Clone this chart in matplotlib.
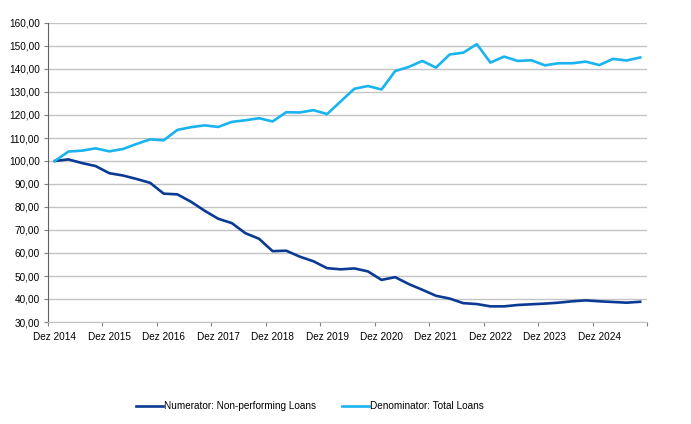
import matplotlib
matplotlib.use("Agg")
from matplotlib import pyplot as plt
import numpy as np

plt.rcParams['font.family'] = ['Liberation Sans', 'DejaVu Sans']

# quarterly index values, Dez 2014 = 100 (Dez 2014 .. Sep 2025)
numerator = [100.0, 100.7, 99.1, 97.8, 94.7, 93.7, 92.2, 90.5, 85.8, 85.5,
             82.3, 78.4, 74.9, 73.0, 68.6, 66.2, 60.8, 61.0, 58.4, 56.4,
             53.4, 52.9, 53.3, 52.0, 48.3, 49.5, 46.5, 44.0, 41.4, 40.2,
             38.2, 37.8, 36.8, 36.8, 37.4, 37.7, 38.0, 38.4, 39.0, 39.4,
             39.0, 38.7, 38.4, 38.8]
denominator = [100.0, 104.1, 104.5, 105.5, 104.2, 105.2, 107.4, 109.4, 109.0, 113.5,
               114.7, 115.5, 114.8, 117.0, 117.7, 118.6, 117.2, 121.2, 121.1, 122.1,
               120.4, 125.9, 131.4, 132.6, 131.1, 139.1, 140.9, 143.5, 140.6, 146.3,
               147.1, 150.8, 142.8, 145.4, 143.5, 143.8, 141.6, 142.5, 142.5, 143.2,
               141.7, 144.4, 143.7, 145.0]
years = list(range(2014, 2025))
tick_labels = ['Dez %d' % y for y in years]

x = np.arange(len(numerator))

fig = plt.figure(figsize=(6.91, 4.24), dpi=100)
ax = fig.add_axes([48 / 691, 1 - 322 / 424, 599 / 691, 299 / 424])

ax.plot(x, numerator, color='#0b3a94', lw=1.9, label='Numerator: Non-performing Loans')
ax.plot(x, denominator, color='#19b4f0', lw=1.9, label='Denominator: Total Loans')

ax.set_xlim(-0.5, len(x) - 0.5)
ax.set_ylim(30, 160)
ax.set_yticks(np.arange(30, 161, 10))
ax.set_yticklabels([('%.2f' % v).replace('.', ',') for v in np.arange(30, 161, 10)])
ax.yaxis.grid(True, color='#c4c4c4', lw=1)
ax.set_axisbelow(True)

ax.set_xticks(np.arange(-0.5, len(x), 4))
ax.set_xticklabels([])
ax.set_xticks(np.arange(0, len(x), 4), minor=True)
ax.set_xticklabels(tick_labels, minor=True)
ax.tick_params(axis='x', which='major', length=3, color='#808080')
ax.tick_params(axis='x', which='minor', length=0, pad=7, labelsize=7.2)
ax.tick_params(axis='y', length=3, color='#808080', pad=3, labelsize=7.2)

for s in ['top', 'right']:
    ax.spines[s].set_visible(False)
ax.spines['left'].set_color('#606060')
ax.spines['bottom'].set_color('#c4c4c4')

fig.legend(loc='center', bbox_to_anchor=(0.449, 1 - 406 / 424), ncol=2, frameon=False,
           fontsize=7.2, handlelength=2.7, handletextpad=0.1, columnspacing=2.6)

fig.savefig('out.png', dpi=100)
